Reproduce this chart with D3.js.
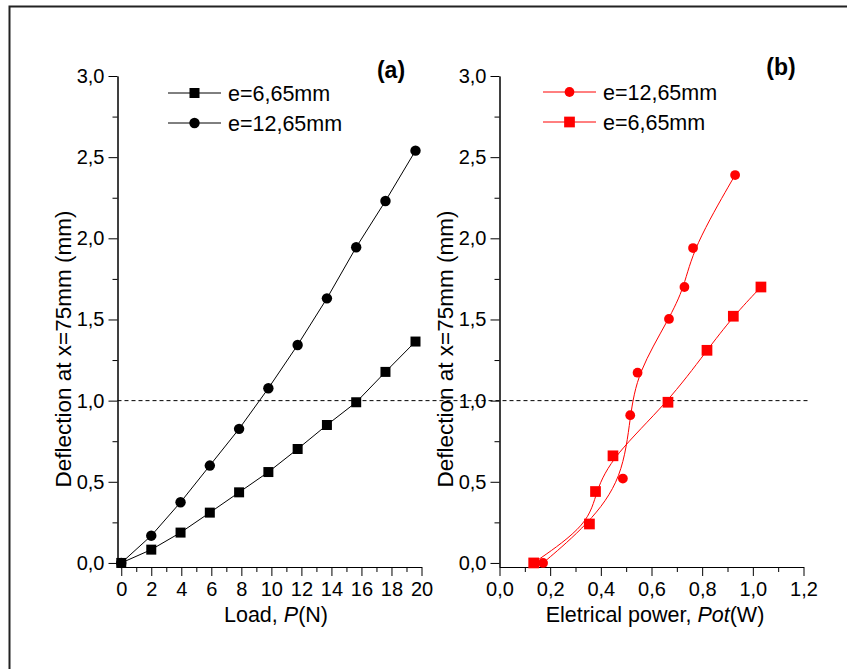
<!DOCTYPE html>
<html>
<head>
<meta charset="utf-8">
<script src="https://cdn.jsdelivr.net/npm/d3@7"></script>
<style>
  body { margin: 0; background: #fff; }
  svg { display: block; font-family: Arial, "Liberation Sans", sans-serif; }
  .tick text { font-size: 20px; fill: #000; }
  .axis path, .axis line { stroke: #000; stroke-width: 1px; }
</style>
</head>
<body>
<svg id="chart" width="847" height="669"></svg>
<script>
// panel (a): deflection vs load
var loadP = [0, 2, 3.95, 5.9, 7.85, 9.8, 11.75, 13.7, 15.65, 17.6, 19.6];
var defA665 = [0, 0.082, 0.187, 0.31, 0.435, 0.56, 0.702, 0.85, 0.99, 1.177, 1.364];
var defA1265 = [0, 0.168, 0.374, 0.6, 0.826, 1.076, 1.343, 1.63, 1.945, 2.23, 2.54];

// panel (b): deflection vs electrical power
var potB1265 = [0.172, 0.352, 0.487, 0.516, 0.545, 0.669, 0.73, 0.764, 0.93];
var defB1265 = [0, 0.24, 0.52, 0.91, 1.172, 1.503, 1.70, 1.94, 2.39];
var potB665 = [0.135, 0.355, 0.379, 0.448, 0.665, 0.819, 0.923, 1.032];
var defB665 = [0, 0.24, 0.44, 0.66, 0.99, 1.31, 1.52, 1.70];

var yTicks = [0, 0.5, 1, 1.5, 2, 2.5, 3];
var yMinor = [0.25, 0.75, 1.25, 1.75, 2.25, 2.75];
var xTicksA = [0, 2, 4, 6, 8, 10, 12, 14, 16, 18, 20];
var xMinorA = [1, 3, 5, 7, 9, 11, 13, 15, 17, 19];
var xTicksB = [0, 0.2, 0.4, 0.6, 0.8, 1.0, 1.2];
var xMinorB = [0.1, 0.3, 0.5, 0.7, 0.9, 1.1];

var legendA = ["e=6,65mm", "e=12,65mm"];
var legendB = ["e=12,65mm", "e=6,65mm"];

var svg = d3.select("#chart");
var ptBR = d3.formatLocale({decimal: ",", thousands: ".", grouping: [3], currency: ["", ""]});
var fmt1 = ptBR.format(".1f");

// outer frame
svg.append("path")
    .attr("d", "M9.5,700V6.5H900")
    .style("fill", "none")
    .style("stroke", "#222")
    .style("stroke-width", 2);

var plotTop = 76, plotBottom = 567;

var y = d3.scaleLinear().domain([-0.025, 3]).range([plotBottom, plotTop]);
var xA = d3.scaleLinear().domain([-0.25, 20]).range([117.5, 421.5]);
var xB = d3.scaleLinear().domain([0, 1.2]).range([499.5, 803.5]);

function drawAxes(x, xMajor, xMinor, xFmt) {
    var g = svg.append("g");
    var left = x.range()[0];

    g.append("g").attr("class", "axis")
        .attr("transform", "translate(" + left + ",0)")
        .call(d3.axisLeft(y).tickValues(yMinor).tickSize(5).tickSizeOuter(0).tickFormat(""));
    g.append("g").attr("class", "axis")
        .attr("transform", "translate(" + left + ",0)")
        .call(d3.axisLeft(y).tickValues(yTicks).tickSize(9).tickSizeOuter(0).tickPadding(4).tickFormat(fmt1));

    g.append("g").attr("class", "axis")
        .attr("transform", "translate(0," + plotBottom + ")")
        .call(d3.axisBottom(x).tickValues(xMinor).tickSize(5).tickSizeOuter(0).tickFormat(""));
    g.append("g").attr("class", "axis")
        .attr("transform", "translate(0," + plotBottom + ")")
        .call(d3.axisBottom(x).tickValues(xMajor).tickSize(9).tickSizeOuter(0).tickPadding(6).tickFormat(xFmt));
    return g;
}

drawAxes(xA, xTicksA, xMinorA, d3.format("d"));
drawAxes(xB, xTicksB, xMinorB, fmt1);

// dashed reference line at 1,0 mm
svg.append("line")
    .attr("x1", xA.range()[0])
    .attr("x2", xB.range()[1] + 4)
    .attr("y1", y(1))
    .attr("y2", y(1))
    .style("stroke", "#000")
    .style("stroke-width", 1)
    .style("stroke-dasharray", "4,3");

function zipPts(xs, ys) {
    return xs.map(function(v, i) { return [v, ys[i]]; });
}

function drawSeries(x, pts, color, shape, size, curve) {
    var line = d3.line()
        .x(function(d) { return x(d[0]); })
        .y(function(d) { return y(d[1]); })
        .curve(curve);
    svg.append("path")
        .datum(pts)
        .attr("d", line)
        .style("fill", "none")
        .style("stroke", color)
        .style("stroke-width", 1);
    var sym = d3.symbol().type(shape == "square" ? d3.symbolSquare : d3.symbolCircle).size(size);
    svg.selectAll(null)
        .data(pts)
        .enter()
        .append("path")
        .attr("d", sym)
        .attr("transform", function(d) { return "translate(" + x(d[0]) + "," + y(d[1]) + ")"; })
        .style("fill", color);
}

drawSeries(xA, zipPts(loadP, defA665), "#000", "square", 100, d3.curveLinear);
drawSeries(xA, zipPts(loadP, defA1265), "#000", "circle", 85, d3.curveLinear);
drawSeries(xB, zipPts(potB1265, defB1265), "#ff0000", "circle", 75, d3.curveBasis);
drawSeries(xB, zipPts(potB665, defB665), "#ff0000", "square", 115, d3.curveBasis);

// legends
function drawLegend(x0, y0, labels, shapes, color, sizes) {
    labels.forEach(function(lab, i) {
        var yy = y0 + i * 30;
        svg.append("line")
            .attr("x1", x0).attr("x2", x0 + 53)
            .attr("y1", yy).attr("y2", yy)
            .style("stroke", color).style("stroke-width", 1);
        svg.append("path")
            .attr("d", d3.symbol().type(shapes[i] == "square" ? d3.symbolSquare : d3.symbolCircle).size(sizes[i]))
            .attr("transform", "translate(" + (x0 + 26.5) + "," + yy + ")")
            .style("fill", color);
        svg.append("text")
            .attr("x", x0 + 60)
            .attr("y", yy)
            .attr("dy", "0.35em")
            .style("font-size", "21.5px")
            .text(lab);
    });
}
drawLegend(168, 93, legendA, ["square", "circle"], "#000", [100, 85]);
drawLegend(543, 92, legendB, ["circle", "square"], "#ff0000", [75, 115]);

// panel letters
svg.append("text").attr("x", 391).attr("y", 78)
    .style("text-anchor", "middle").style("font-weight", "bold").style("font-size", "23px")
    .text("(a)");
svg.append("text").attr("x", 781).attr("y", 75)
    .style("text-anchor", "middle").style("font-weight", "bold").style("font-size", "23px")
    .text("(b)");

// axis titles
[63, 445].forEach(function(cx) {
    svg.append("text")
        .attr("transform", "translate(" + cx + "," + 349 + ") rotate(-90)")
        .attr("dy", "0.35em")
        .style("text-anchor", "middle")
        .style("font-size", "22.5px")
        .text("Deflection at x=75mm (mm)");
});

var tA = svg.append("text").attr("x", 276).attr("y", 622)
    .style("text-anchor", "middle").style("font-size", "21.5px");
tA.append("tspan").text("Load, ");
tA.append("tspan").style("font-style", "italic").text("P");
tA.append("tspan").text("(N)");

var tB = svg.append("text").attr("x", 655).attr("y", 622)
    .style("text-anchor", "middle").style("font-size", "21.5px");
tB.append("tspan").text("Eletrical power, ");
tB.append("tspan").style("font-style", "italic").text("Pot");
tB.append("tspan").text("(W)");
</script>
</body>
</html>
